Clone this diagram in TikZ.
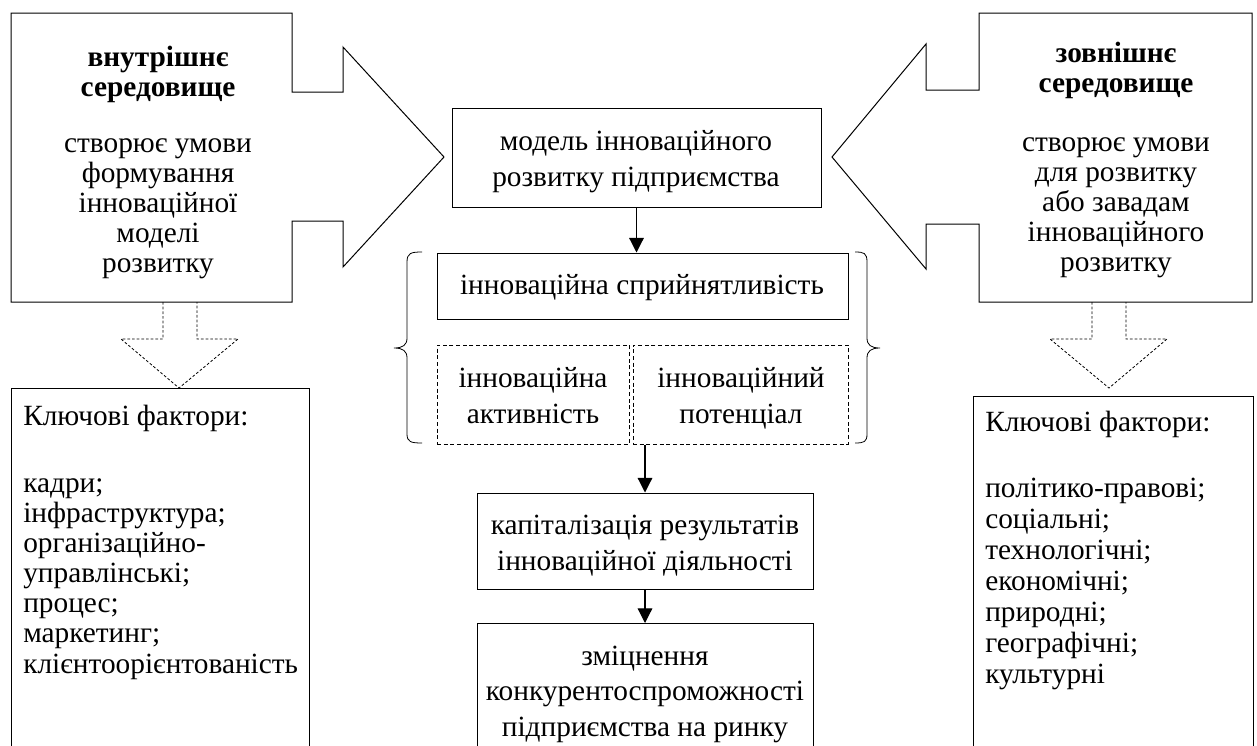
\documentclass[tikz,border=0pt]{standalone}
\usepackage{fontspec}
\setmainfont{Liberation Serif}
\usetikzlibrary{arrows.meta,fit}
\begin{document}
\begin{tikzpicture}[x=0.75pt,y=-0.75pt,
  outline/.style={draw=black, line width=0.75pt, line join=miter},
  dotline/.style={draw=black, line width=0.6pt, dash pattern=on 2pt off 1.5pt},
  box/.style={draw=black, line width=0.75pt, inner sep=0pt, fit=#1},
  dbox/.style={draw=black, line width=0.75pt, dash pattern=on 3pt off 2pt, inner sep=0pt, fit=#1},
  arr/.style={draw=black, line width=0.9pt, -{Triangle[width=11pt,length=11pt]}},
  tsingle/.style={inner sep=0pt, align=center, anchor=base, font=\fontsize{22}{22.5}\selectfont},
  tbold/.style={inner sep=0pt, align=center, anchor=base, font=\fontsize{22}{22.5}\selectfont\bfseries},
  tcentral/.style={inner sep=0pt, align=center, anchor=base, font=\fontsize{22}{26.6}\selectfont},
  tlist/.style={inner sep=0pt, align=left, anchor=base west, font=\fontsize{22}{22.6}\selectfont},
  tlistb/.style={inner sep=0pt, align=left, anchor=base west, font=\fontsize{22}{23.2}\selectfont},
  brace/.style={draw=black, line width=0.6pt}
]
\useasboundingbox (0,0) rectangle (1257,746);

% big block arrows
\draw[outline] (11,13) -- (292,13) -- (292,92) -- (343,92) -- (343,47) -- (444,157)
  -- (343,267) -- (343,221) -- (292,221) -- (292,302) -- (11,302) -- cycle;
\draw[outline] (1252,13) -- (979,13) -- (979,90) -- (926,90) -- (926,44) -- (832,157)
  -- (926,269) -- (926,224) -- (979,224) -- (979,302) -- (1252,302) -- cycle;

% (anchor = base of the last line)
\node[tbold] (inTitle) at (158,96) {внутрішнє\\середовище};
\node[tsingle] (inBody) at (158,272) {створює умови\\формування\\інноваційної\\моделі\\розвитку};
\node[tbold] (exTitle) at (1116,92) {зовнішнє\\середовище};
\node[tsingle] (exBody) at (1116,271) {створює умови\\для розвитку\\або завадам\\інноваційного\\розвитку};

% dashed down arrows
\draw[dotline] (163,302) -- (163,339) -- (121,339) -- (179,388) -- (238,339) -- (197,339) -- (197,302);
\draw[dotline] (1092,302) -- (1092,339) -- (1050,339) -- (1109,388) -- (1167,339) -- (1126,339) -- (1126,302);

% factor boxes (open at the bottom)
\draw[outline] (11,746) -- (11,388) -- (309,388) -- (309,746);
\draw[outline] (973,746) -- (973,396) -- (1253,396) -- (1253,746);
\node[tlist] (inHead) at (23,425) {Ключові фактори:};
\node[tlist] (inList) at (23,673) {кадри;\\інфраструктура;\\організаційно-\\управлінські;\\процес;\\маркетинг;\\клієнтоорієнтованість};
\node[tlistb] (exHead) at (985,431) {Ключові фактори:};
\node[tlistb] (exList) at (985,683) {політико-правові;\\соціальні;\\технологічні;\\економічні;\\природні;\\географічні;\\культурні};

% central column
\coordinate (m1) at (452,108); \coordinate (m2) at (821,207);
\node[box={(m1)(m2)}] (model) {};
\node[tcentral] at (636,186) {модель інноваційного\\розвитку підприємства};

\coordinate (r1) at (437,253); \coordinate (r2) at (848,319);
\node[box={(r1)(r2)}] (recep) {};
\node[tcentral] at (642,294) {інноваційна сприйнятливість};

\coordinate (a1) at (437,345); \coordinate (a2) at (629,444);
\node[dbox={(a1)(a2)}] (dashL) {};
\node[tcentral] at (533,423) {інноваційна\\активність};
\coordinate (p1) at (633,345); \coordinate (p2) at (848,444);
\node[dbox={(p1)(p2)}] (dashR) {};
\node[tcentral] at (741,423) {інноваційний\\потенціал};

\coordinate (c1) at (477,493); \coordinate (c2) at (813,589);
\node[box={(c1)(c2)}] (cap) {};
\node[tcentral] at (645,570) {капіталізація результатів\\інноваційної діяльності};

\coordinate (botTop) at (645,623);
\draw[outline] (477,746) -- (477,623) -- (813,623) -- (813,746);
\node[tcentral] at (645,736) {зміцнення\\конкурентоспроможності\\підприємства на ринку};

% braces
\draw[brace] (422,252) .. controls (411,252) and (407,253) .. (407,262) -- (407,338)
  .. controls (407,345) and (403,348) .. (394,348) .. controls (403,348) and (407,351) .. (407,358)
  -- (407,434) .. controls (407,442) and (411,443) .. (422,443);
\draw[brace] (855,252) .. controls (864,252) and (867,253) .. (867,262) -- (867,338)
  .. controls (867,345) and (871,348) .. (880,348) .. controls (871,348) and (867,351) .. (867,358)
  -- (867,434) .. controls (867,442) and (864,443) .. (855,443);

% connectors
\draw[arr] (model.south) -- (model.south |- recep.north);
\draw[arr] (cap.north |- dashR.south) -- (cap.north);
\draw[arr] (cap.south) -- (botTop);
\end{tikzpicture}
\end{document}
